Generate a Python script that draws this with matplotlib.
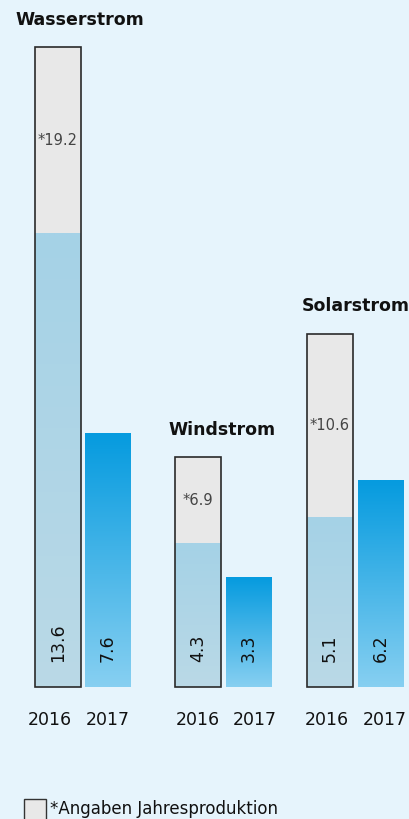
import numpy as np
import matplotlib
matplotlib.use('Agg')
import matplotlib.pyplot as plt
from matplotlib.patches import Rectangle

# Daten
kategorien = ['Wasserstrom', 'Windstrom', 'Solarstrom']
jahre = ['2016', '2017']
jahresproduktion = [19.2, 6.9, 10.6]   # grauer Balken (*)
werte_2016 = [13.6, 4.3, 5.1]
werte_2017 = [7.6, 3.3, 6.2]

# Layout (Pixel)
W, H = 410, 819
BASE_PX = 132          # Abstand Grundlinie vom unteren Rand
PX_PER_UNIT = 33.33
BAR_W = 46
x_2016 = [35, 175, 307]
x_2017 = [85, 226, 358]
jahr_x = [(50, 108), (198, 255), (327, 385)]
titel_x = [15, 168, 302]

BG = '#E6F4FC'
GRAU = '#E8E8E8'

fig = plt.figure(figsize=(W / 100, H / 100), dpi=100)
fig.patch.set_facecolor(BG)
ax = fig.add_axes([0, 0, 1, 1])
ax.set_facecolor(BG)
ax.set_xlim(0, W)
ax.set_ylim(-BASE_PX / PX_PER_UNIT, (H - BASE_PX) / PX_PER_UNIT)
ax.axis('off')


def verlauf(ax, x0, x1, y0, y1, c_oben, c_unten, z):
    c1 = np.array(matplotlib.colors.to_rgb(c_oben))
    c2 = np.array(matplotlib.colors.to_rgb(c_unten))
    t = np.linspace(0, 1, 64)[:, None]
    img = (c1 * (1 - t) + c2 * t)[:, None, :]
    ax.imshow(img, extent=[x0, x1, y0, y1], aspect='auto',
              interpolation='bilinear', zorder=z, origin='upper')


for i, kat in enumerate(kategorien):
    x0 = x_2016[i]
    # grauer Balken Jahresproduktion
    ax.add_patch(Rectangle((x0, 0), BAR_W, jahresproduktion[i],
                           facecolor=GRAU, edgecolor='none', zorder=1))
    # 2016 Anteil
    verlauf(ax, x0, x0 + BAR_W, 0, werte_2016[i], '#A5D2E7', '#BAD9E6', 2)
    ax.add_patch(Rectangle((x0, 0), BAR_W, jahresproduktion[i],
                           facecolor='none', edgecolor='#2a2a2a', lw=1.2, zorder=3))
    # 2017
    x1 = x_2017[i]
    verlauf(ax, x1, x1 + BAR_W, 0, werte_2017[i], '#069BDF', '#86CFF1', 2)

    # Beschriftungen
    mitte = (werte_2016[i] + jahresproduktion[i]) / 2
    ax.text(x0 + BAR_W / 2, mitte, '*' + f'{jahresproduktion[i]:.1f}',
            ha='center', va='center', fontsize=10.5, color='#444444', zorder=4)
    for xb, v in ((x0, werte_2016[i]), (x1, werte_2017[i])):
        ax.text(xb + BAR_W / 2, 0.75, f'{v:.1f}', rotation=90,
                ha='center', va='bottom', fontsize=12.5, color='#111111', zorder=4)
    for xj, j in zip(jahr_x[i], jahre):
        ax.text(xj, -1.0, j, ha='center', va='center',
                fontsize=12.5, color='#111111')

    top = max(jahresproduktion[i], werte_2017[i])
    ax.text(titel_x[i], top + 0.55, kat, ha='left', va='bottom',
            fontsize=12.5, fontweight='bold', color='#111111')

# Legende
ax.add_patch(Rectangle((24, -3.99), 22, 0.62, facecolor=GRAU,
                       edgecolor='#333333', lw=1.0, clip_on=False))
ax.text(50, -3.66, '*Angaben Jahresproduktion', ha='left', va='center',
        fontsize=12, color='#111111')

fig.savefig('out.png', dpi=100, facecolor=BG)
